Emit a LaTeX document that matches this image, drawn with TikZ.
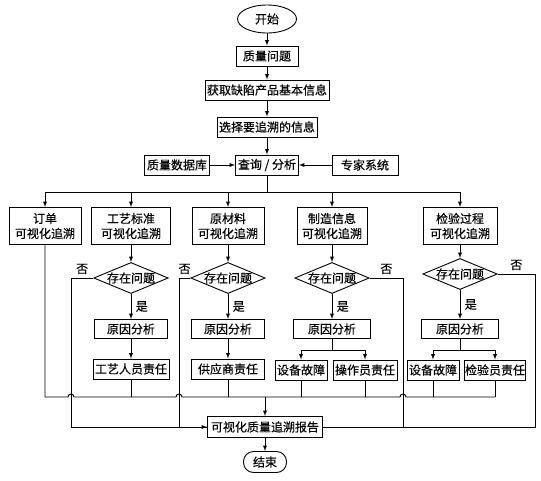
\documentclass[tikz,border=0pt]{standalone}
\usepackage{fontspec}
\setmainfont{Noto Sans CJK SC}[FakeBold=0.4]
\usetikzlibrary{shapes.geometric,calc}

\tikzset{
  box/.style={draw, rectangle, minimum height=20pt, inner xsep=2pt, inner ysep=1pt},
  colbox/.style={box, align=center, minimum width=72pt, minimum height=37pt},
  ask/.style={draw, diamond, aspect=2.4, inner sep=0pt},
  term/.style={draw, ellipse, minimum width=59pt, minimum height=28pt, inner sep=0pt}
}

\begin{document}
\begin{tikzpicture}[x=1pt, y=-1pt, >=latex, line width=0.9pt, node distance=37pt, font=\fontsize{12}{15}\selectfont]
    \useasboundingbox (0,0) rectangle (541,480);
    \node[term] (start) at (267,19) {开始};
    \node[box, below of=start, minimum width=62pt] (problem) {质量问题};
    \node[box, below of=problem, node distance=34pt] (getinfo) {获取缺陷产品基本信息};
    \node[box, below of=getinfo] (select) {选择要追溯的信息};
    \node[box, below of=select, node distance=38pt, minimum width=63pt] (query) {查询 / 分析};
    \node[box, left of=query, node distance=90pt, minimum width=65pt] (db) {质量数据库};
    \node[box, right of=query, node distance=98pt, minimum width=66pt] (expert) {专家系统};

    \node[colbox] (order) at (45,226) {订单\\可视化追溯};
    \node[colbox, minimum width=79pt] (craft) at (131,226) {工艺标准\\可视化追溯};
    \node[colbox] (material) at (228,226) {原材料\\可视化追溯};
    \node[colbox, minimum width=70pt] (make) at (332,226) {制造信息\\可视化追溯};
    \node[colbox, minimum width=74pt] (check) at (460,226) {检验过程\\可视化追溯};

    \node[ask, below of=craft, node distance=52pt] (ask1) {存在问题};
    \node[ask, below of=material, node distance=52pt] (ask2) {存在问题};
    \node[ask, below of=make, node distance=52pt] (ask3) {存在问题};
    \node[ask, below of=check, node distance=48pt] (ask4) {存在问题};

    \node[box, below of=ask1, node distance=51pt, minimum width=73pt, minimum height=19pt] (why1) {原因分析};
    \node[box, below of=ask2, node distance=51pt, minimum width=73pt, minimum height=19pt] (why2) {原因分析};
    \node[box, below of=ask3, node distance=51pt, minimum width=77pt, minimum height=19pt] (why3) {原因分析};
    \node[box, below of=ask4, node distance=55pt, minimum width=77pt, minimum height=19pt] (why4) {原因分析};

    \node[box, below of=why1, node distance=40pt] (craftman) {工艺人员责任};
    \node[box, below of=why2, node distance=40pt, minimum width=73pt] (supplier) {供应商责任};
    \node[box] (fault1) at (301,370) {设备故障};
    \node[box] (operator) at (365,370) {操作员责任};
    \node[box] (fault2) at (433,370) {设备故障};
    \node[box, minimum width=61pt, inner xsep=0.5pt] (inspector) at (495,370) {检验员责任};

    \node[box, minimum width=115pt, minimum height=21pt] (report) at (265,427) {可视化质量追溯报告};
    \node[draw, rounded corners=10pt, minimum width=43pt, minimum height=21pt, inner sep=1pt, below of=report, node distance=35pt] (finish) {结束};

    \coordinate (split) at (query.south |- 0,192);
    \coordinate (col) at (report.north |- 0,397);
    \coordinate (no1) at (71,0 |- ask1);
    \coordinate (no2) at (179,0 |- ask2);
    \coordinate (no3) at (403,0 |- ask3);
    \coordinate (no4) at (535,0 |- ask4);

    \draw[->] (start) -- (problem);
    \draw[->] (problem) -- (getinfo);
    \draw[->] (getinfo) -- (select);
    \draw[->] (select) -- (query);
    \draw[->] (db) -- (query);
    \draw[->] (expert) -- (query);
    \draw (query) -- (split);
    \foreach \c in {order,craft,material,make,check}
        \draw[->] (split) -| (\c);
    \foreach \a/\b in {craft/ask1,material/ask2,make/ask3,check/ask4}
        \draw[->] (\a) -- (\b);
    \foreach \a/\b in {ask1/why1,ask2/why2,ask3/why3,ask4/why4}
        \draw[->] (\a) -- node[right, xshift=1pt]{是} (\b);
    \draw[->] (why1) -- (craftman);
    \draw[->] (why2) -- (supplier);
    \draw (why3.south) -- ++(0,11) coordinate (fork3);
    \draw[->] (fork3) -| (fault1);
    \draw[->] (fork3) -| (operator);
    \draw (why4.south) -- ++(0,11) coordinate (fork4);
    \draw[->] (fork4) -| (fault2);
    \draw[->] (fork4) -| (inspector);

    \draw[->] (ask1) -- node[above]{否} (no1) |- (report);
    \draw (ask2) -- node[above]{否} (no2) |- (report);
    \draw (ask3) -- node[above]{否} (no3) |- (report);
    \draw (ask4) -- node[above]{否} (no4) |- (report);

    \foreach \r in {craftman,supplier,fault1,operator,fault2,inspector}
        \draw (\r) -- (\r |- col);
    \draw (order) |- ($(no1 |- col)+(-3,0)$) arc[start angle=180, end angle=0, radius=3pt]
        -- ($(no2 |- col)+(-3,0)$) arc[start angle=180, end angle=0, radius=3pt]
        -- ($(no3 |- col)+(-3,0)$) arc[start angle=180, end angle=0, radius=3pt]
        -- (inspector |- col);
    \draw[->] (col) -- (report);
    \draw[->] (report) -- (finish);
\end{tikzpicture}
\end{document}
